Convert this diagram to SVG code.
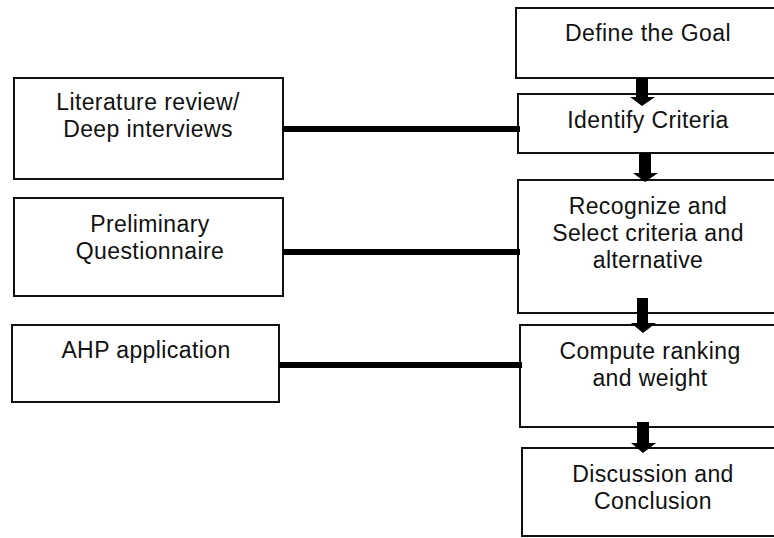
<svg xmlns="http://www.w3.org/2000/svg" width="774" height="538" viewBox="0 0 774 538">
<style>
.box{fill:#fff;stroke:#111;stroke-width:2}
.t{font-family:"Liberation Sans",Arial,sans-serif;font-size:23px;letter-spacing:0.4px;fill:#111;text-anchor:middle}
.link{stroke:#000;stroke-width:6;fill:none}
.arr{fill:#000}
</style>
<rect width="774" height="538" fill="#fff"/>
<g id="goal"><rect class="box" x="516" y="8" width="270" height="70"/><text class="t" x="648" y="41">Define the Goal</text></g>
<g id="criteria"><rect class="box" x="518" y="94" width="270" height="59"/><text class="t" x="648" y="128">Identify Criteria</text></g>
<g id="recognize"><rect class="box" x="518" y="180" width="270" height="133"/><text class="t" x="648" y="214">Recognize and</text><text class="t" x="648" y="241">Select criteria and</text><text class="t" x="648" y="268">alternative</text></g>
<g id="compute"><rect class="box" x="520" y="325" width="270" height="102"/><text class="t" x="650" y="359">Compute ranking</text><text class="t" x="650" y="386">and weight</text></g>
<g id="discussion"><rect class="box" x="522" y="448" width="270" height="88"/><text class="t" x="653" y="482">Discussion and</text><text class="t" x="653" y="509">Conclusion</text></g>
<g id="literature"><rect class="box" x="14" y="78" width="269" height="101"/><text class="t" x="148" y="110">Literature review/</text><text class="t" x="148" y="137">Deep interviews</text></g>
<g id="questionnaire"><rect class="box" x="14" y="198" width="269" height="98"/><text class="t" x="150" y="232">Preliminary</text><text class="t" x="150" y="259">Questionnaire</text></g>
<g id="ahp"><rect class="box" x="12" y="325" width="267" height="77"/><text class="t" x="146" y="358">AHP application</text></g>
<g id="connectors">
<line class="link" x1="283" y1="129" x2="520" y2="129"/>
<line class="link" x1="283" y1="252" x2="520" y2="252"/>
<line class="link" x1="279" y1="365" x2="522" y2="365"/>
<polygon class="arr" points="636,78 648,78 648,97 655,97 642,106 630,97 636,97"/>
<polygon class="arr" points="639,153 651,153 651,173 658,173 645,182 633,173 639,173"/>
<polygon class="arr" points="637,298 648,298 648,323 656,323 643,333 631,323 637,323"/>
<polygon class="arr" points="637,422 649,422 649,443 656,443 643,453 631,443 637,443"/>
</g>
</svg>
